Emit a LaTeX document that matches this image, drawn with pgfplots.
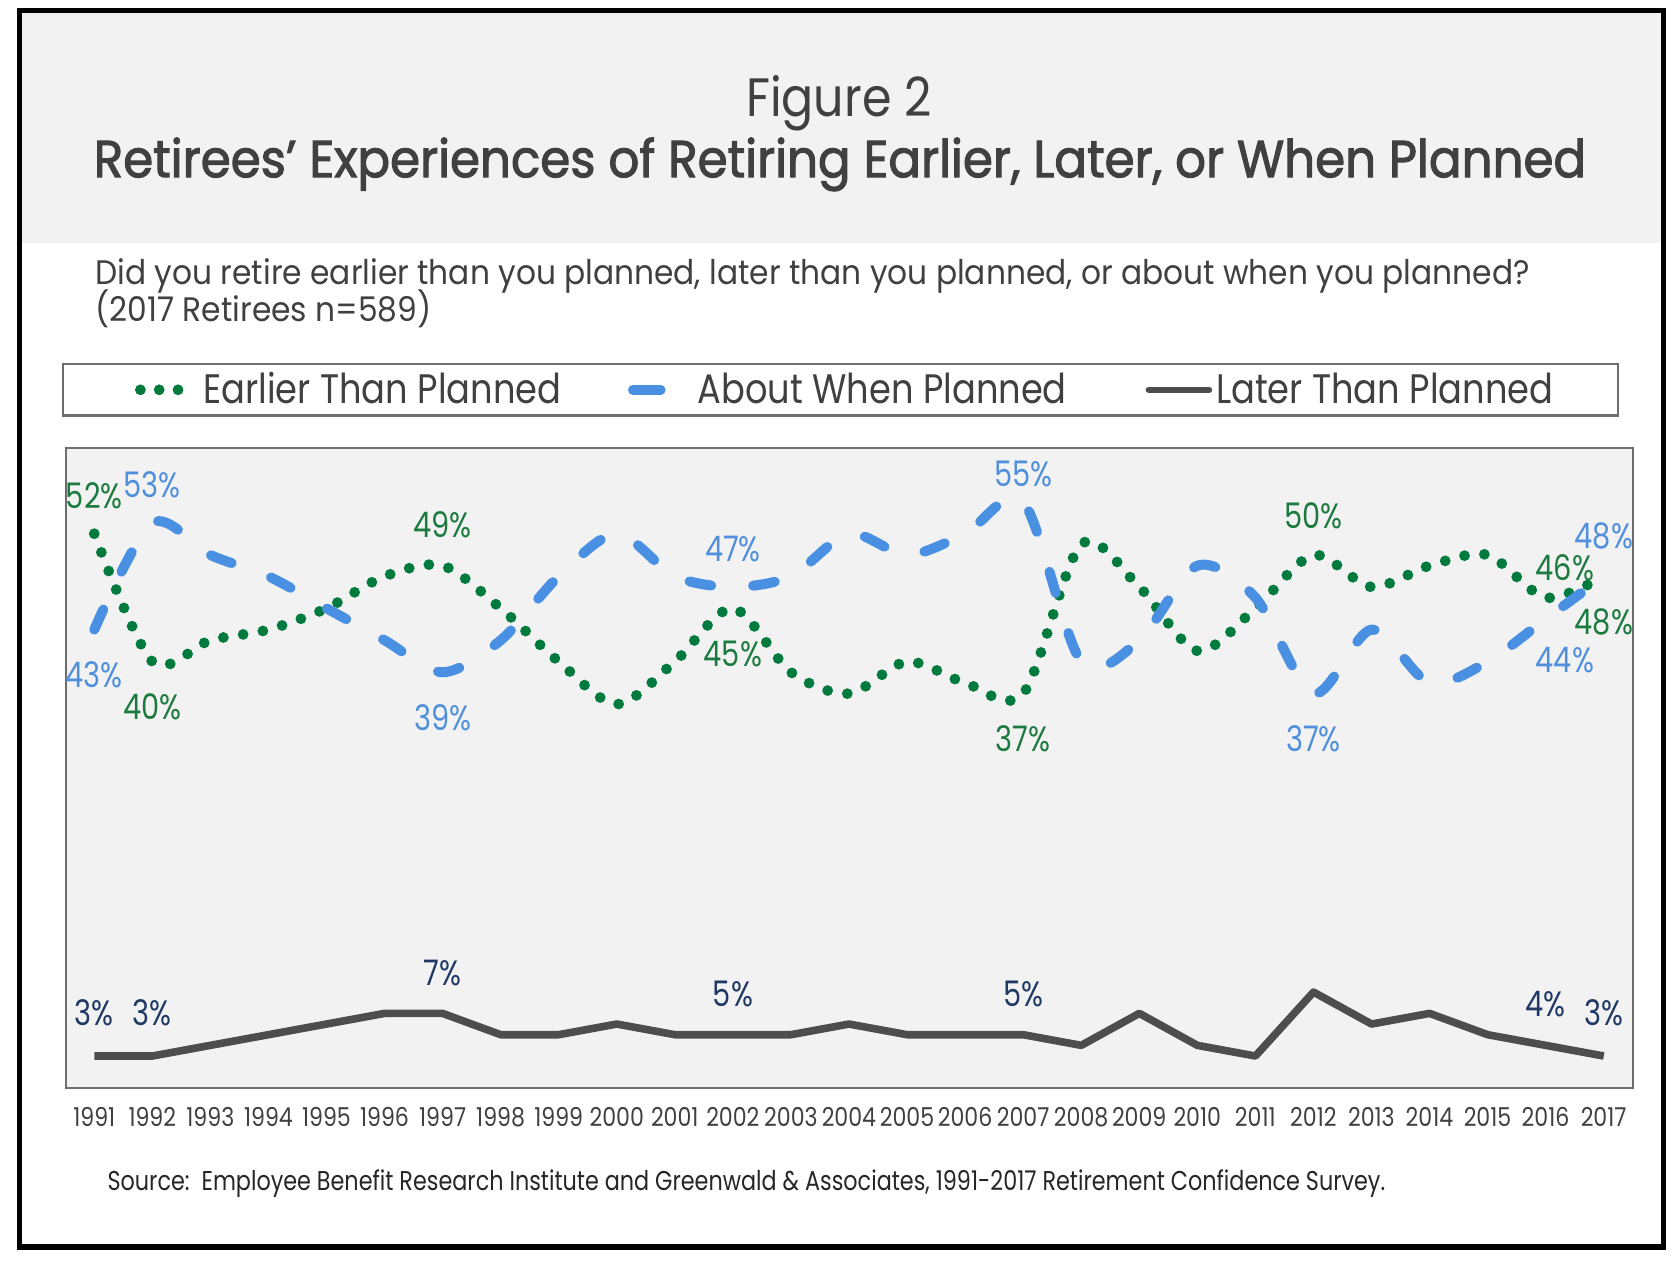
\documentclass[border=0pt]{standalone}
\usepackage{fontspec}
\setmainfont{Poppins}[FakeStretch=0.82]
\newfontfamily\figfont{Poppins}[FakeStretch=0.88]
\newfontfamily\titfont{Poppins}[FakeStretch=0.93, FakeBold=2]
\newfontfamily\subfont{Poppins}[FakeStretch=0.92]
\newfontfamily\legfont{Poppins}[FakeStretch=0.855]
\newfontfamily\tickfont{Poppins}[FakeStretch=0.85]
\usepackage{pgfplots}
\usepackage{pgfplotstable}
\pgfplotsset{compat=1.18}

\definecolor{bandgray}{HTML}{F2F2F2}
\definecolor{txtgray}{HTML}{404040}
\definecolor{framegray}{HTML}{6E6E6E}
\definecolor{earlygreen}{HTML}{007A3D}
\definecolor{earlylab}{HTML}{1B7A3E}
\definecolor{aboutblue}{HTML}{4A90E2}
\definecolor{aboutlab}{HTML}{4F8FDB}
\definecolor{laterline}{HTML}{4D4D4D}
\definecolor{laterlab}{HTML}{1F3864}

% share of retirees, percent
\pgfplotstableread{
year early about later
1991 52 43 3
1992 40 53 3
1993 42 50 4
1994 43 48 5
1995 45 45 6
1996 48 42 7
1997 49 39 7
1998 45 42 5
1999 40 48 5
2000 36 52 6
2001 40 48 5
2002 45 47 5
2003 39 48 5
2004 37 52 6
2005 40 50 5
2006 38 52 5
2007 37 55 5
2008 51 40 4
2009 47 42 7
2010 41 49 4
2011 45 46 3
2012 50 37 9
2013 47 43 6
2014 49 38 7
2015 50 40 5
2016 46 44 4
2017 48 48 3
}\rcsdata

% labelled points: shift of the label in pt
\pgfplotstableread{
year val dx dy
1991 52 0 9.6
1992 40 0 -11.3
1997 49 0 10.2
2002 45 0 -11.3
2007 37 0 -11.3
2012 50 0 9.9
2016 46 4.8 7.5
2017 48 0 -11.3
}\earlylabels
\pgfplotstableread{
year val dx dy
1991 43 0 -11.3
1992 53 0 9.6
1997 39 0 -11.3
2002 47 0 9.6
2007 55 0 7
2012 37 0 -11.3
2016 44 4.8 -10.4
2017 48 0 10.2
}\aboutlabels
\pgfplotstableread{
year val dx dy
1991 3 0 10.7
1992 3 0 10.7
1997 7 0 10.2
2002 5 0 10.2
2007 5 0 10.2
2016 4 0 10.2
2017 3 0 10.7
}\laterlabels

\pgfplotsset{
  pctlabels/.style={
    draw=none, mark=none, forget plot,
    point meta=y,
    nodes near coords={\pgfmathprintnumber{\pgfplotspointmeta}\%},
    visualization depends on={\thisrow{dx}\as\dx},
    visualization depends on={\thisrow{dy}\as\dy},
    nodes near coords style={anchor=center, inner sep=0pt,
      xshift=\dx pt, yshift=\dy pt, font=\fontsize{8.8}{10}\selectfont, text=#1},
  },
}

\begin{document}
\begin{tikzpicture}
\fill[white] (0,0) rectangle (420pt,316pt);
\fill[bandgray] (4.83pt,255.25pt) rectangle (415.9pt,313.42pt);

\begin{axis}[
  at={(16.6pt,44pt)}, anchor=south west,
  scale only axis, width=391.6pt, height=159.9pt,
  xmin=1990.52, xmax=2017.5, ymin=0, ymax=60,
  axis background/.style={fill=bandgray},
  axis line style={draw=framegray, line width=0.5pt},
  ytick=\empty,
  xtick={1991,1992,...,2017},
  major tick length=0pt,
  /pgf/number format/assume math mode=true,
  xticklabel style={font=\tickfont\fontsize{6.5}{7.5}\selectfont, text=txtgray,
    anchor=base, yshift=-9.5pt, inner sep=0pt,
    /pgf/number format/1000 sep={}},
  clip=false,
  legend columns=3,
  legend cell align=left,
  legend style={at={(-0.0028,1.0494)}, anchor=south west,
    inner sep=0pt, draw=framegray, line width=0.6pt, fill=white,
    nodes={inner sep=0pt, text height=9.95pt, text depth=2.95pt,
      font=\legfont\fontsize{10.3}{12}\selectfont, text=txtgray}},
]
\addplot[earlygreen, smooth, line width=2.7pt, line cap=round,
  dash pattern=on 0pt off 5pt,
  legend image code/.code={
    \path[draw=none, fill=none] (0pt,-3pt) rectangle (35.1pt,3pt);
    \fill[earlygreen, draw=none] (19.3pt,0pt) circle (1.35pt)
      (24pt,0pt) circle (1.35pt) (28.7pt,0pt) circle (1.35pt);}]
  table[x=year, y=early] {\rcsdata};
\addlegendentry{\makebox[88.4pt][l]{Earlier Than Planned}}

\addplot[aboutblue, smooth, line width=2.5pt, line cap=round,
  dash pattern=on 5.5pt off 10.5pt,
  legend image code/.code={
    \path[draw=none, fill=none] (0pt,-3pt) rectangle (35.1pt,3pt);
    \draw[solid, aboutblue, line width=2.4pt, line cap=round]
      (18.9pt,0pt) -- (25.9pt,0pt);}]
  table[x=year, y=about] {\rcsdata};
\addlegendentry{\makebox[94pt][l]{About When Planned}}

\addplot[laterline, line width=1.9pt, line join=round,
  legend image code/.code={
    \path[draw=none, fill=none] (0pt,-3pt) rectangle (35.6pt,3pt);
    \draw[solid, laterline, line width=1.5pt, line cap=round]
      (18.75pt,0pt) -- (33.9pt,0pt);}]
  table[x=year, y=later] {\rcsdata};
\addlegendentry{\makebox[100.5pt][l]{Later Than Planned}}

\addplot[pctlabels=earlylab] table[x=year, y=val] {\earlylabels};
\addplot[pctlabels=aboutlab] table[x=year, y=val] {\aboutlabels};
\addplot[pctlabels=laterlab] table[x=year, y=val] {\laterlabels};
\end{axis}

\draw[black, line width=1.33pt] (4.83pt,4.25pt) rectangle (415.9pt,313.42pt);

\node[anchor=base, inner sep=0pt, text=txtgray,
  font=\figfont\fontsize{13.5}{15}\selectfont] at (209.7pt,286.9pt) {Figure 2};
\node[anchor=base, inner sep=0pt, text=txtgray,
  font=\titfont\fontsize{13}{15}\selectfont] at (210pt,271.7pt)
  {Retirees’ Experiences of Retiring Earlier, Later, or When Planned};
\node[anchor=base west, inner sep=0pt, text=txtgray,
  font=\subfont\fontsize{8.5}{10}\selectfont] at (23.7pt,244.75pt)
  {Did you retire earlier than you planned, later than you planned, or about when you planned?};
\node[anchor=base west, inner sep=0pt, text=txtgray,
  font=\subfont\fontsize{8.5}{10}\selectfont] at (23.7pt,235.7pt)
  {(2017 Retirees n=589)};
\node[anchor=base west, inner sep=0pt, text=black!85,
  font=\fontsize{6.8}{8}\selectfont] at (26.7pt,18.5pt)
  {Source:\ \ Employee Benefit Research Institute and Greenwald \& Associates, 1991-2017 Retirement Confidence Survey.};
\end{tikzpicture}
\end{document}
